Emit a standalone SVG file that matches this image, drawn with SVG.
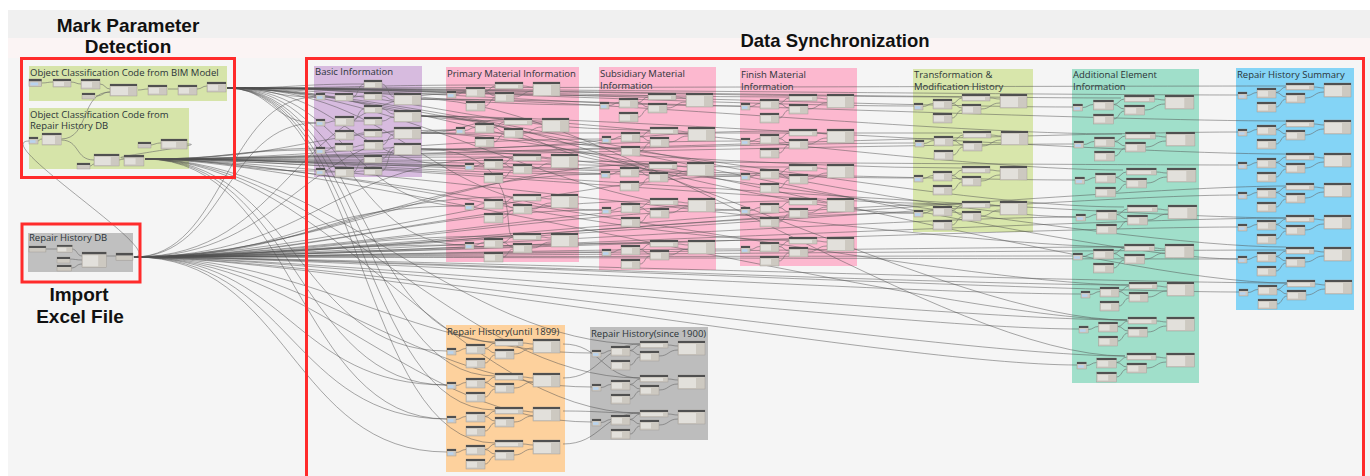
<svg xmlns="http://www.w3.org/2000/svg" width="1370" height="476" viewBox="0 0 1370 476">
<style>
  .grp-t { font-family: "Open Sans", "Liberation Sans", sans-serif; font-size: 9.5px; fill: #2b3438; }
  .big { font-family: "Liberation Sans", Arial, sans-serif; font-size: 19px; font-weight: bold; fill: #111; text-anchor: middle; }
  .bd { fill: #cdc9c1; stroke: #9c978f; stroke-width: 0.4; }
  .hd { fill: #505050; }
  .fl { fill: #e2e0db; }
  .bl { fill: #b9d3ee; }
  .iw { fill: none; stroke: #6a6a6a; stroke-width: 0.6; }
  .w path { fill: none; stroke: #4f4f4f; stroke-width: 0.7; stroke-opacity: 0.7; }
  .red { fill: none; stroke: #ff2b2b; stroke-width: 3; }
</style>
<defs>
  <!-- mini node shapes -->
  <g id="kS"><rect class="bd" width="9" height="7"/><rect class="hd" width="9" height="2"/><rect class="bl" x="1" y="3.2" width="5.5" height="2.6"/></g>
  <g id="kM"><rect class="bd" width="19" height="10"/><rect class="hd" width="19" height="2"/><rect class="fl" x="1" y="3" width="10" height="5.5"/></g>
  <g id="kN"><rect class="bd" width="18" height="8"/><rect class="hd" width="18" height="2"/><rect class="fl" x="1" y="3" width="10" height="4"/></g>
  <g id="kW"><rect class="bd" width="28" height="7"/><rect class="hd" width="28" height="2"/><rect class="fl" x="1" y="3" width="22" height="3"/></g>
  <g id="kO"><rect class="bd" width="27" height="14"/><rect class="hd" width="27" height="2"/><rect class="fl" x="1" y="3" width="17" height="10"/></g>
  <g id="kL"><rect class="bd" width="27" height="12"/><rect class="hd" width="27" height="2"/><rect class="fl" x="1" y="3" width="17" height="8"/></g>
  <g id="kT"><rect class="bd" width="13" height="6"/><rect class="hd" width="13" height="2"/></g>
  <!-- repeated sub-graph: input, two lookups, two setters, output -->
  <g id="blk">
    <path class="iw" d="M9,12.5C14,12.5 14,9.5 19,9.5M38,9.5C43,9.5 43,4 48,4M38,9.5C43,9.5 43,14 48,14M38,24C43,24 43,16 48,16M76,4C81,4 81,5 86,5M67,15C77,15 76,9 86,9"/>
    <use href="#kS" y="9"/>
    <use href="#kM" x="19" y="5"/>
    <use href="#kM" x="19" y="19"/>
    <use href="#kW" x="48"/>
    <use href="#kM" x="48" y="10"/>
    <use href="#kO" x="86"/>
  </g>
</defs>

<!-- canvas -->
<rect x="0" y="0" width="1370" height="476" fill="#ffffff"/>
<rect x="8" y="10" width="1362" height="466" fill="#f5f5f5"/>
<rect x="8" y="10" width="1362" height="28" fill="#f0f0f0"/>
<rect x="8" y="38" width="1362" height="20" fill="#fbf4f4"/>

<!-- group backgrounds -->
<g id="grp-bim-code"><rect x="29" y="66" width="198" height="35" fill="#d6e4a9"/><text class="grp-t" x="30" y="76">Object Classification Code from BIM Model</text></g>
<g id="grp-db-code"><rect x="29" y="108" width="160" height="61" fill="#d6e4a9"/><text class="grp-t" x="30" y="118">Object Classification Code from</text><text class="grp-t" x="30" y="129">Repair History DB</text></g>
<g id="grp-repair-db"><rect x="28" y="233" width="105" height="39" fill="#c0c0c0"/><text class="grp-t" x="29" y="241">Repair History DB</text></g>
<g id="grp-basic"><rect x="314" y="66" width="108" height="111" fill="#d7bbdf"/><text class="grp-t" x="315" y="75">Basic Information</text></g>
<g id="grp-primary"><rect x="446" y="67" width="133" height="195" fill="#fcb8cf"/><text class="grp-t" x="447" y="77">Primary Material Information</text></g>
<g id="grp-subsidiary"><rect x="599" y="67" width="117" height="203" fill="#fcb8cf"/><text class="grp-t" x="600" y="77">Subsidiary Material</text><text class="grp-t" x="600" y="88.5">Information</text></g>
<g id="grp-finish"><rect x="740" y="68" width="117" height="198" fill="#fcb8cf"/><text class="grp-t" x="741" y="78">Finish Material</text><text class="grp-t" x="741" y="89.5">Information</text></g>
<g id="grp-transform"><rect x="913" y="69" width="120" height="163" fill="#d8e6ab"/><text class="grp-t" x="914" y="78">Transformation &amp;</text><text class="grp-t" x="914" y="89.5">Modification History</text></g>
<g id="grp-additional"><rect x="1072" y="69" width="127" height="314" fill="#a0dfca"/><text class="grp-t" x="1073" y="78">Additional Element</text><text class="grp-t" x="1073" y="89.5">Information</text></g>
<g id="grp-summary"><rect x="1236" y="68" width="118" height="242" fill="#84d4f6"/><text class="grp-t" x="1237" y="78">Repair History Summary</text></g>
<g id="grp-until1899"><rect x="446" y="325" width="119" height="147" fill="#fdd19d"/><text class="grp-t" x="447" y="335">Repair History(until 1899)</text></g>
<g id="grp-since1900"><rect x="590" y="327" width="118" height="113" fill="#bdbdbd"/><text class="grp-t" x="591" y="337">Repair History(since 1900)</text></g>

<!-- wires -->
<g id="connectors" class="w">
  <!-- from BIM classification output -->
  <path d="M227,88C271,88 272,97 316,97"/>
  <path d="M227,88C271,88 272,123 316,123"/>
  <path d="M227,88C295,88 296,84 364,84"/>
  <path d="M227,88C337,88 337,94 447,94"/>
  <path d="M227,88C361,88 361,85 495,85"/>
  <path d="M227,88C407,88 469,96 649,96"/>
  <path d="M227,88C407,88 609,97 789,97"/>
  <path d="M227,88C407,88 782,97 962,97"/>
  <path d="M227,88C407,88 941,98 1121,98"/>
  <path d="M227,88C407,88 1106,86 1286,86"/>
  <path d="M227,88C407,88 420,105 600,105"/>
  <path d="M227,88C407,88 561,106 741,106"/>
  <path d="M227,88C407,88 734,106 914,106"/>
  <path d="M227,88C407,88 893,107 1073,107"/>
  <path d="M227,88C407,88 1058,95 1238,95"/>
  <path d="M227,88C365,88 366,121 504,121"/>
  <path d="M227,88C407,88 470,130 650,130"/>
  <path d="M227,88C361,88 361,342 495,342"/>
  <path d="M227,88C361,88 361,376 495,376"/>
  <path d="M227,88C361,88 361,410 495,410"/>
  <path d="M227,88C361,88 361,443 495,443"/>
  <path d="M227,88C346,88 346,166 465,166"/>
  <path d="M227,88C346,88 346,206 465,206"/>
  <path d="M227,88C346,88 346,245 465,245"/>
  <path d="M227,88C407,88 422,210 602,210"/>
  <path d="M227,88C407,88 561,210 741,210"/>
  <path d="M227,88C407,88 734,213 914,213"/>
  <path d="M227,88C407,88 896,217 1076,217"/>
  <path d="M227,88C407,88 1058,259 1238,259"/>
  <!-- from repair DB classification output -->
  <path d="M145,159C230,159 231,150 316,150"/>
  <path d="M145,159C230,159 231,171 316,171"/>
  <path d="M145,159C240,159 240,148 335,148"/>
  <path d="M145,159C305,159 305,166 465,166"/>
  <path d="M145,159C325,159 333,157 513,157"/>
  <path d="M145,159C325,159 421,174 601,174"/>
  <path d="M145,159C325,159 561,176 741,176"/>
  <path d="M145,159C325,159 734,178 914,178"/>
  <path d="M145,159C325,159 895,180 1075,180"/>
  <path d="M145,159C325,159 1058,165 1238,165"/>
  <path d="M145,159C300,159 301,130 456,130"/>
  <path d="M145,159C325,159 422,139 602,139"/>
  <path d="M145,159C325,159 561,141 741,141"/>
  <path d="M145,159C325,159 735,143 915,143"/>
  <path d="M145,159C325,159 894,144 1074,144"/>
  <path d="M145,159C325,159 1058,132 1238,132"/>
  <path d="M145,159C325,159 609,167 789,167"/>
  <path d="M145,159C325,159 460,344 640,344"/>
  <path d="M145,159C325,159 460,378 640,378"/>
  <path d="M145,159C325,159 460,413 640,413"/>
  <path d="M145,159C296,159 296,351 447,351"/>
  <path d="M145,159C325,159 944,247 1124,247"/>
  <path d="M145,159C325,159 949,285 1129,285"/>
  <path d="M145,159C325,159 947,320 1127,320"/>
  <path d="M145,159C325,159 1106,218 1286,218"/>
  <path d="M145,159C325,159 609,240 789,240"/>
  <path d="M145,159C325,159 782,204 962,204"/>
  <path d="M145,159C296,159 296,385 447,385"/>
  <path d="M145,159C296,159 296,419 447,419"/>
  <!-- from repair history DB -->
  <path d="M134,257C299,257 300,206 465,206"/>
  <path d="M134,257C299,257 300,245 465,245"/>
  <path d="M134,257C314,257 422,210 602,210"/>
  <path d="M134,257C314,257 422,252 602,252"/>
  <path d="M134,257C314,257 561,210 741,210"/>
  <path d="M134,257C314,257 561,249 741,249"/>
  <path d="M134,257C314,257 734,213 914,213"/>
  <path d="M134,257C314,257 896,217 1076,217"/>
  <path d="M134,257C314,257 893,256 1073,256"/>
  <path d="M134,257C314,257 901,294 1081,294"/>
  <path d="M134,257C314,257 899,329 1079,329"/>
  <path d="M134,257C314,257 897,365 1077,365"/>
  <path d="M134,257C314,257 1058,195 1238,195"/>
  <path d="M134,257C314,257 1058,227 1238,227"/>
  <path d="M134,257C314,257 1058,259 1238,259"/>
  <path d="M134,257C314,257 1059,292 1239,292"/>
  <path d="M134,257C290,257 291,385 447,385"/>
  <path d="M134,257C290,257 291,419 447,419"/>
  <path d="M134,257C290,257 291,452 447,452"/>
  <path d="M134,257C314,257 412,353 592,353"/>
  <path d="M134,257C314,257 412,387 592,387"/>
  <path d="M134,257C314,257 412,422 592,422"/>
  <path d="M134,257C225,257 225,97 316,97"/>
  <path d="M134,257C225,257 225,123 316,123"/>
  <path d="M134,257C290,257 291,94 447,94"/>
  <path d="M134,257C290,257 300,130 456,130"/>
  <path d="M134,257C314,257 333,197 513,197"/>
  <path d="M134,257C314,257 333,236 513,236"/>
  <path d="M134,257C314,257 470,201 650,201"/>
  <path d="M134,257C314,257 470,243 650,243"/>
  <path d="M134,257C314,257 609,201 789,201"/>
  <path d="M134,257C314,257 609,240 789,240"/>
  <path d="M134,257C314,257 782,204 962,204"/>
  <path d="M134,257C314,257 944,247 1124,247"/>
  <path d="M134,257C314,257 949,285 1129,285"/>
  <path d="M134,257C314,257 947,320 1127,320"/>
  <path d="M134,257C314,257 945,356 1125,356"/>
  <path d="M134,257C314,257 1106,186 1286,186"/>
  <path d="M134,257C314,257 1106,218 1286,218"/>
  <path d="M134,257C314,257 1106,250 1286,250"/>
  <path d="M134,257C314,257 1107,283 1287,283"/>
  <path d="M134,257C314,257 333,157 513,157"/>
  <path d="M134,257C314,257 470,164 650,164"/>
  <path d="M134,257C314,257 421,174 601,174"/>
  <path d="M134,257C314,257 561,176 741,176"/>
  <path d="M133,257C175,257 -12,141 29,141"/>
  <!-- from basic information outputs -->
  <path d="M421,99C601,99 1106,121 1286,121"/>
  <path d="M421,116C601,116 1106,154 1286,154"/>
  <path d="M421,133C601,133 782,133 962,133"/>
  <path d="M421,149C601,149 782,168 962,168"/>
  <path d="M421,99C601,99 942,134 1122,134"/>
  <path d="M421,116C601,116 943,170 1123,170"/>
  <path d="M421,133C601,133 944,207 1124,207"/>
  <path d="M421,149C601,149 609,131 789,131"/>
  <path d="M421,116C536,116 535,164 650,164"/>
  <path d="M421,133C467,133 467,119 513,119"/>
  <path d="M421,149C601,149 1106,247 1286,247"/>
  <path d="M421,99C601,99 945,356 1125,356"/>
  <path d="M421,116C601,116 947,320 1127,320"/>
  <path d="M421,133C601,133 1106,283 1287,283"/>
  <path d="M421,149C530,149 500,236 513,236"/>
  <!-- between the two repair history groups -->
  <path d="M563,344C601,344 602,378 640,378"/>
  <path d="M563,378C601,378 602,344 640,344"/>
  <path d="M563,411C601,411 602,413 640,413"/>
  <path d="M563,444C601,444 602,413 640,413"/>
</g>

<!-- node clusters -->
<g id="nodes-bim-code">
  <path class="iw" d="M42,83C47,83 48,82 53,82M71,82C76,82 76,84 81,84M100,84C105,84 105,89 110,89M96,96C103,96 103,92 110,92M138,90C143,90 143,89 148,89M168,89C173,89 173,89 178,89M197,89C202,89 202,86 207,86M61,139C90,139 80,92 110,92"/>
  <use href="#kS" x="29" y="79" transform="translate(29 79) scale(1.4 1.1) translate(-29 -79)"/>
  <use href="#kN" x="53" y="79"/>
  <use href="#kM" x="81" y="79"/>
  <use href="#kT" x="82" y="93"/>
  <use href="#kL" x="110" y="84"/>
  <use href="#kM" x="148" y="85"/>
  <use href="#kM" x="178" y="85"/>
  <use href="#kM" x="207" y="82"/>
</g>
<g id="nodes-db-code">
  <path class="iw" d="M37,141C40,141 39,139 42,139M61,140C80,140 75,160 94,160M90,166C92,166 92,164 94,164M119,160C121,160 122,159 124,159M149,145C155,145 155,143 161,143M187,144C215,144 100,158 124,158"/>
  <use href="#kS" x="29" y="137"/>
  <use href="#kL" x="42" y="133" transform="translate(42 133) scale(0.72 1) translate(-42 -133)"/>
  <use href="#kT" x="138" y="142"/>
  <use href="#kM" x="161" y="139" transform="translate(161 139) scale(1.37 1) translate(-161 -139)"/>
  <use href="#kL" x="94" y="154" transform="translate(94 154) scale(0.93 1) translate(-94 -154)"/>
  <use href="#kM" x="124" y="155" transform="translate(124 155) scale(1.05 1.1) translate(-124 -155)"/>
  <use href="#kT" x="77" y="163"/>
</g>
<g id="nodes-repair-db">
  <path class="iw" d="M46,249C51,249 52,249 57,249M72,249C77,249 77,256 82,256M69,259C75,259 76,260 82,260M71,268C77,268 76,264 82,264M106,256C111,256 111,256 116,256"/>
  <use href="#kT" x="29" y="246" transform="translate(29 246) scale(1.3 1) translate(-29 -246)"/>
  <use href="#kN" x="57" y="245" transform="translate(57 245) scale(0.85 0.9) translate(-57 -245)"/>
  <use href="#kT" x="57" y="257"/>
  <use href="#kT" x="57" y="265" transform="translate(57 265) scale(1.1 1) translate(-57 -265)"/>
  <use href="#kO" x="82" y="252" transform="translate(82 252) scale(0.9 1.1) translate(-82 -252)"/>
  <use href="#kT" x="116" y="253" transform="translate(116 253) scale(1.3 1.2) translate(-116 -253)"/>
</g>
<g id="nodes-basic">
  <path class="iw" d="M324,97C330,97 330,97 335,97M324,123C330,123 330,121 335,121M324,151C330,151 330,147 335,147M324,172C330,172 330,172 335,172M353,97C358,97 358,84 364,84M353,97C358,97 358,96 364,96M353,121C358,121 358,109 364,109M353,121C358,121 358,121 364,121M353,135C358,135 358,133 364,133M353,147C358,147 358,145 364,145M353,172C358,172 358,159 364,159M353,172C358,172 358,171 364,171M382,84C388,84 388,97 394,97M382,96C388,96 388,100 394,100M382,109C388,109 388,114 394,114M382,121C388,121 388,117 394,117M382,133C388,133 388,131 394,131M382,145C388,145 388,134 394,134M382,159C388,159 388,147 394,147M382,171C388,171 388,150 394,150"/>
  <use href="#kS" x="316" y="93"/><use href="#kS" x="316" y="119"/><use href="#kS" x="316" y="147"/><use href="#kS" x="316" y="168"/>
  <use href="#kN" x="335" y="93"/><use href="#kM" x="335" y="116"/><use href="#kM" x="335" y="130"/><use href="#kN" x="335" y="143"/><use href="#kM" x="335" y="167"/>
  <use href="#kN" x="364" y="80"/><use href="#kN" x="364" y="92"/><use href="#kN" x="364" y="105"/><use href="#kN" x="364" y="117"/><use href="#kN" x="364" y="129"/><use href="#kM" x="364" y="140"/><use href="#kN" x="364" y="155"/><use href="#kN" x="364" y="167"/>
  <use href="#kL" x="394" y="93"/><use href="#kL" x="394" y="110"/><use href="#kL" x="394" y="127"/><use href="#kL" x="394" y="143"/>
</g>
<g id="nodes-primary">
  <use href="#blk" x="447" y="82"/><use href="#blk" x="456" y="118"/><use href="#blk" x="465" y="154"/><use href="#blk" x="465" y="194"/><use href="#blk" x="465" y="233"/>
</g>
<g id="nodes-subsidiary">
  <use href="#blk" x="600" y="93"/><use href="#blk" x="602" y="127"/><use href="#blk" x="601" y="162"/><use href="#blk" x="602" y="198"/><use href="#blk" x="602" y="240"/>
</g>
<g id="nodes-finish">
  <use href="#blk" x="741" y="94"/><use href="#blk" x="741" y="129"/><use href="#blk" x="741" y="164"/><use href="#blk" x="741" y="198"/><use href="#blk" x="741" y="237"/>
</g>
<g id="nodes-transform">
  <use href="#blk" x="914" y="94"/><use href="#blk" x="915" y="131"/><use href="#blk" x="914" y="166"/><use href="#blk" x="914" y="201"/>
</g>
<g id="nodes-additional">
  <use href="#blk" transform="translate(1073 95) scale(1.07 1)"/>
  <use href="#blk" transform="translate(1074 132) scale(1.07 1)"/>
  <use href="#blk" transform="translate(1075 168) scale(1.07 1)"/>
  <use href="#blk" transform="translate(1076 205) scale(1.07 1)"/>
  <use href="#blk" transform="translate(1073 244) scale(1.07 1)"/>
  <use href="#blk" transform="translate(1081 282) scale(1.0 1)"/>
  <use href="#blk" transform="translate(1079 317) scale(1.02 1)"/>
  <use href="#blk" transform="translate(1077 353) scale(1.04 1)"/>
</g>
<g id="nodes-summary">
  <use href="#blk" x="1238" y="83"/><use href="#blk" x="1238" y="120"/><use href="#blk" x="1238" y="153"/><use href="#blk" x="1238" y="183"/><use href="#blk" x="1238" y="215"/><use href="#blk" x="1238" y="247"/><use href="#blk" x="1239" y="280"/>
</g>
<g id="nodes-until1899">
  <use href="#blk" x="447" y="339"/><use href="#blk" x="447" y="373"/><use href="#blk" x="447" y="407"/><use href="#blk" x="447" y="440"/>
</g>
<g id="nodes-since1900">
  <use href="#blk" x="592" y="341"/><use href="#blk" x="592" y="375"/><use href="#blk" x="592" y="410"/>
</g>

<!-- annotation frames and captions -->
<g id="ann-mark">
  <rect class="red" x="21.5" y="58.5" width="213" height="119"/>
  <text class="big" x="128" y="31.5">Mark Parameter</text>
  <text class="big" x="128" y="53">Detection</text>
</g>
<g id="ann-import">
  <rect class="red" x="22" y="224" width="118" height="58"/>
  <text class="big" x="79" y="301">Import</text>
  <text class="big" x="80" y="322.5">Excel File</text>
</g>
<g id="ann-sync">
  <rect class="red" x="306.5" y="58.5" width="1057" height="440"/>
  <text class="big" x="835" y="47" style="font-size:18.5px">Data Synchronization</text>
</g>
</svg>
